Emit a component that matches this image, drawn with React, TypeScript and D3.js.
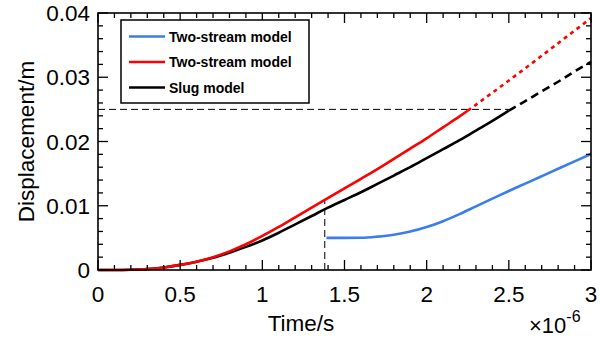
import React from "react";
import * as d3 from "d3";

// Time in units of 1e-6 s, displacement in m
const redT = [0, 0.1, 0.2, 0.3, 0.4, 0.5, 0.6, 0.7, 0.8, 0.9, 1.0, 1.1, 1.2, 1.3, 1.38, 1.5, 1.6, 1.7, 1.8, 1.9, 2.0, 2.1, 2.2, 2.25];
const redY = [0, 0, 0.00004, 0.00015, 0.0004, 0.0008, 0.0013, 0.002, 0.0029, 0.004, 0.0053, 0.0067, 0.0082, 0.0097, 0.0109, 0.0127, 0.0142, 0.0157, 0.0173, 0.0189, 0.0205, 0.0222, 0.0239, 0.0248];
const redExtT = [2.25, 2.4, 2.6, 2.8, 3.0];
const redExtY = [0.0248, 0.0276, 0.0314, 0.0353, 0.0392];

const slugT = [0, 0.1, 0.2, 0.3, 0.4, 0.5, 0.6, 0.7, 0.8, 0.9, 1.0, 1.1, 1.2, 1.3, 1.4, 1.5, 1.6, 1.7, 1.8, 1.9, 2.0, 2.1, 2.2, 2.3, 2.4, 2.5];
const slugY = [0, 0, 0.00004, 0.00015, 0.0004, 0.0008, 0.0013, 0.0019, 0.0027, 0.0036, 0.0046, 0.0058, 0.0071, 0.0084, 0.0097, 0.0109, 0.0121, 0.0134, 0.0147, 0.016, 0.0174, 0.0188, 0.0202, 0.0217, 0.0232, 0.0248];
const slugExtT = [2.5, 2.6, 2.7, 2.8, 2.9, 3.0];
const slugExtY = [0.0248, 0.0263, 0.0278, 0.0293, 0.0309, 0.0324];

const blueT = [1.39, 1.5, 1.6, 1.7, 1.8, 1.9, 2.0, 2.1, 2.2, 2.3, 2.4, 2.5, 2.6, 2.7, 2.8, 2.9, 3.0];
const blueY = [0.005, 0.005, 0.00502, 0.0052, 0.0055, 0.006, 0.0067, 0.0076, 0.0087, 0.0099, 0.0111, 0.0123, 0.01345, 0.0146, 0.01575, 0.0169, 0.01805];

const xTicks = [0, 0.5, 1, 1.5, 2, 2.5, 3];
const xTickLabels = ["0", "0.5", "1", "1.5", "2", "2.5", "3"];
const yTicks = [0, 0.01, 0.02, 0.03, 0.04];
const yTickLabels = ["0", "0.01", "0.02", "0.03", "0.04"];

const legendLabels = ["Two-stream model", "Two-stream model", "Slug model"];
const legendColors = ["#3b7ded", "#ff0000", "#000000"];

const markerT = 1.38;
const markerLevel = 0.025;

const W = 600, H = 339;
const m = { left: 98, right: 591, top: 13, bottom: 270 };
const FONT = "'Liberation Sans', Arial, sans-serif";

export default function App() {
  const x = d3.scaleLinear().domain([0, 3]).range([m.left, m.right]);
  const y = d3.scaleLinear().domain([0, 0.04]).range([m.bottom, m.top]);
  const line = d3.line<[number, number]>().x((d) => x(d[0])).y((d) => y(d[1])).curve(d3.curveMonotoneX);
  const pts = (t: number[], v: number[]) => t.map((ti, i) => [ti, v[i]] as [number, number]);

  const xMinor = d3.range(0, 3.0001, 0.1);
  const yMinor = d3.range(0, 0.04001, 0.002);
  const isMajorX = (v: number) => Math.abs(v * 2 - Math.round(v * 2)) < 1e-6;
  const isMajorY = (v: number) => Math.abs(v * 100 - Math.round(v * 100)) < 1e-6;

  const redAtMarker = redY[redT.indexOf(markerT)];

  return (
    <svg width={W} height={H} style={{ position: "absolute", left: 0, top: 0, background: "#fff" }} fontFamily={FONT}>
      {/* reference guides */}
      <line x1={x(0)} x2={x(2.5)} y1={y(markerLevel)} y2={y(markerLevel)} stroke="#000" strokeWidth={1} strokeDasharray="7,4" />
      <line x1={x(markerT)} x2={x(markerT)} y1={y(0)} y2={y(redAtMarker)} stroke="#000" strokeWidth={1} strokeDasharray="7,4" />

      {/* curves */}
      <path d={line(pts(blueT, blueY)) || ""} fill="none" stroke={legendColors[0]} strokeWidth={2.6} />
      <path d={line(pts(slugT, slugY)) || ""} fill="none" stroke={legendColors[2]} strokeWidth={2.6} />
      <path d={line(pts(slugExtT, slugExtY)) || ""} fill="none" stroke={legendColors[2]} strokeWidth={2.6} strokeDasharray="8,5" />
      <path d={line(pts(redT, redY)) || ""} fill="none" stroke={legendColors[1]} strokeWidth={2.6} />
      <path d={line(pts(redExtT, redExtY)) || ""} fill="none" stroke={legendColors[1]} strokeWidth={2.6} strokeDasharray="4,4" />

      {/* ticks */}
      {xMinor.map((v, i) => {
        const len = isMajorX(v) ? 10 : 5;
        return (
          <g key={"xt" + i}>
            <line x1={x(v)} x2={x(v)} y1={m.bottom} y2={m.bottom - len} stroke="#000" strokeWidth={1.3} />
            <line x1={x(v)} x2={x(v)} y1={m.top} y2={m.top + len} stroke="#000" strokeWidth={1.3} />
          </g>
        );
      })}
      {yMinor.map((v, i) => {
        const len = isMajorY(v) ? 10 : 5;
        return (
          <g key={"yt" + i}>
            <line x1={m.left} x2={m.left + len} y1={y(v)} y2={y(v)} stroke="#000" strokeWidth={1.3} />
            <line x1={m.right} x2={m.right - len} y1={y(v)} y2={y(v)} stroke="#000" strokeWidth={1.3} />
          </g>
        );
      })}
      <rect x={m.left} y={m.top} width={m.right - m.left} height={m.bottom - m.top} fill="none" stroke="#000" strokeWidth={1.6} />

      {/* tick labels */}
      {xTicks.map((v, i) => (
        <text key={"xl" + i} x={x(v)} y={302} textAnchor="middle" fontSize={22.5} fill="#000">{xTickLabels[i]}</text>
      ))}
      {yTicks.map((v, i) => (
        <text key={"yl" + i} x={90} y={y(v) + 8} textAnchor="end" fontSize={22.5} fill="#000">{yTickLabels[i]}</text>
      ))}

      {/* axis titles */}
      <text x={301} y={331} textAnchor="middle" fontSize={22.5} fill="#000">Time/s</text>
      <text transform={`translate(34,${(m.top + m.bottom) / 2}) rotate(-90)`} textAnchor="middle" fontSize={22.5} fill="#000">Displacement/m</text>
      <text x={529} y={333} fontSize={22} fill="#000">
        ×10<tspan dy={-11} fontSize={16}>-6</tspan>
      </text>

      {/* legend */}
      <rect x={121} y={20} width={188} height={83} fill="#fff" stroke="#000" strokeWidth={1.5} />
      {legendLabels.map((lab, i) => {
        const ly = 36.5 + i * 25.5;
        return (
          <g key={"lg" + i}>
            <line x1={129} x2={165} y1={ly} y2={ly} stroke={legendColors[i]} strokeWidth={2.6} />
            <text x={169} y={ly + 5} fontSize={14} fontWeight="bold" fill="#000">{lab}</text>
          </g>
        );
      })}
    </svg>
  );
}
